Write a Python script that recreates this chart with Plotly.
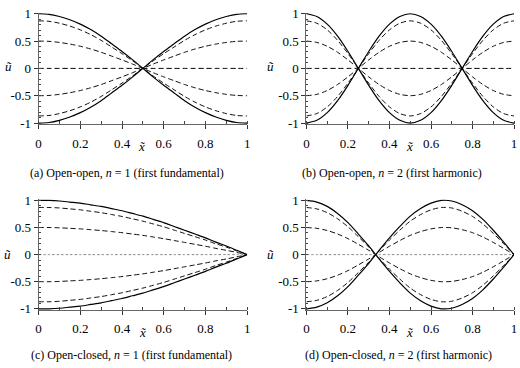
import plotly.graph_objects as go

# ---- data ----
x_vals = [0.00, 0.05, 0.10, 0.15, 0.20, 0.25, 0.30, 0.35, 0.40, 0.45, 0.50,
          0.55, 0.60, 0.65, 0.70, 0.75, 0.80, 0.85, 0.90, 0.95, 1.00]

shape_a = [1.00, 0.99, 0.95, 0.89, 0.81, 0.71, 0.59, 0.45, 0.31, 0.16, 0.00,
           -0.16, -0.31, -0.45, -0.59, -0.71, -0.81, -0.89, -0.95, -0.99, -1.00]
shape_b = [1.00, 0.95, 0.81, 0.59, 0.31, 0.00, -0.31, -0.59, -0.81, -0.95, -1.00,
           -0.95, -0.81, -0.59, -0.31, 0.00, 0.31, 0.59, 0.81, 0.95, 1.00]
shape_c = [1.00, 1.00, 0.99, 0.97, 0.95, 0.92, 0.89, 0.85, 0.81, 0.76, 0.71,
           0.65, 0.59, 0.52, 0.45, 0.38, 0.31, 0.23, 0.16, 0.08, 0.00]
shape_d = [1.00, 0.97, 0.89, 0.76, 0.59, 0.38, 0.16, -0.08, -0.31, -0.52, -0.71,
           -0.85, -0.95, -1.00, -0.99, -0.92, -0.81, -0.65, -0.45, -0.23, 0.00]

amplitudes = [1.0, 0.87, 0.5, 0.0, -0.5, -0.87, -1.0]

captions = [
    "(a) Open-open, <i>n</i> = 1 (first fundamental)",
    "(b) Open-open, <i>n</i> = 2 (first harmonic)",
    "(c) Open-closed, <i>n</i> = 1 (first fundamental)",
    "(d) Open-closed, <i>n</i> = 2 (first harmonic)",
]
x_ticks = [0, 0.2, 0.4, 0.6, 0.8, 1]
x_ticktext = ["0", "0.2", "0.4", "0.6", "0.8", "1"]
y_ticks = [-1, -0.5, 0, 0.5, 1]
y_ticktext = ["-1", "-0.5", "0", "0.5", "1"]

shapes_all = [shape_a, shape_b, shape_c, shape_d]

# ---- layout geometry (pixels) ----
W, H = 520, 368
FONT = "Liberation Serif"
panels = [
    # x0px, x1px, ytop(y=1)px, ybot(y=-1)px
    (36, 247, 8, 121),
    (307, 517, 8, 121),
    (36, 247, 201, 313),
    (307, 517, 201, 313),
]
caption_pos = [(125, 173), (394, 173), (130, 361), (400, 361)]
ytitle_pos = [(6, 63), (271, 63), (5, 257), (271, 257)]
xtitle_pos = [(141, 145), (412, 145), (142, 337), (412, 337)]
# style of the zero-amplitude curve per panel
zero_style = [("black", "5px,3px"), ("black", "5px,3px"),
              ("#8a8a8a", "2.5px,2px"), ("#8a8a8a", "2.5px,2px")]

YPAD = 0.02

fig = go.Figure()
for i, (shp, (x0, x1, yt, yb)) in enumerate(zip(shapes_all, panels)):
    k = "" if i == 0 else str(i + 1)
    for a in amplitudes:
        solid = abs(abs(a) - 1.0) < 1e-9
        if solid:
            col, dsh, wd = "black", "solid", 1.2
        elif a == 0:
            col, dsh = zero_style[i]
            wd = 1
        else:
            col, dsh, wd = "#111", "5px,3px", 1
        fig.add_trace(go.Scatter(
            x=x_vals, y=[a * s for s in shp], mode="lines",
            line=dict(color=col, width=wd, dash=dsh, shape="spline", smoothing=0.8),
            xaxis="x" + k, yaxis="y" + k, showlegend=False, hoverinfo="skip"))
    ppu = (yb - yt) / 2.0
    top_px = yt - YPAD * ppu
    bot_px = yb + YPAD * ppu
    fig.layout["xaxis" + k] = dict(
        domain=[x0 / W, x1 / W], range=[0, 1], anchor="y" + k,
        tickvals=x_ticks, ticktext=x_ticktext, ticks="outside", ticklen=4,
        tickcolor="#333", showline=True, linecolor="#666", linewidth=1,
        showgrid=False, zeroline=False, ticklabeloverflow="allow",
        ticklabelstandoff=3,
        tickfont=dict(family=FONT, size=13, color="black"),
        minor=dict(dtick=0.1, tick0=0, ticks="inside", ticklen=3, tickcolor="#444"),
    )
    fig.layout["yaxis" + k] = dict(
        domain=[1 - bot_px / H, 1 - top_px / H], range=[-1 - YPAD, 1 + YPAD],
        anchor="x" + k, tickvals=y_ticks, ticktext=y_ticktext, ticks="outside",
        ticklen=4, tickcolor="#333", showline=True, linecolor="#666", linewidth=1,
        showgrid=False, zeroline=False, ticklabeloverflow="allow",
        tickfont=dict(family=FONT, size=13, color="black"),
        minor=dict(dtick=0.1, tick0=0, ticks="inside", ticklen=2, tickcolor="#444"),
    )

annotations = []
for (cx, cy), txt in zip(caption_pos, captions):
    annotations.append(dict(x=cx / W, y=1 - cy / H, xref="paper", yref="paper",
                            text=txt, showarrow=False, xanchor="center", yanchor="middle",
                            font=dict(family=FONT, size=12, color="black")))
for (cx, cy) in ytitle_pos:
    annotations.append(dict(x=cx / W, y=1 - cy / H, xref="paper", yref="paper",
                            text="<i>ũ</i>", showarrow=False, xanchor="center",
                            yanchor="middle", font=dict(family=FONT, size=13, color="black")))
for (cx, cy) in xtitle_pos:
    annotations.append(dict(x=cx / W, y=1 - cy / H, xref="paper", yref="paper",
                            text="<i>x̃</i>", showarrow=False, xanchor="center",
                            yanchor="middle", font=dict(family=FONT, size=13, color="black")))

fig.update_layout(
    width=W, height=H, margin=dict(l=0, r=0, t=0, b=0),
    paper_bgcolor="white", plot_bgcolor="white",
    annotations=annotations,
)

fig.write_html("out.html", config={"displayModeBar": False},
               post_script="document.body.style.margin='0px';document.body.style.overflow='hidden';")
